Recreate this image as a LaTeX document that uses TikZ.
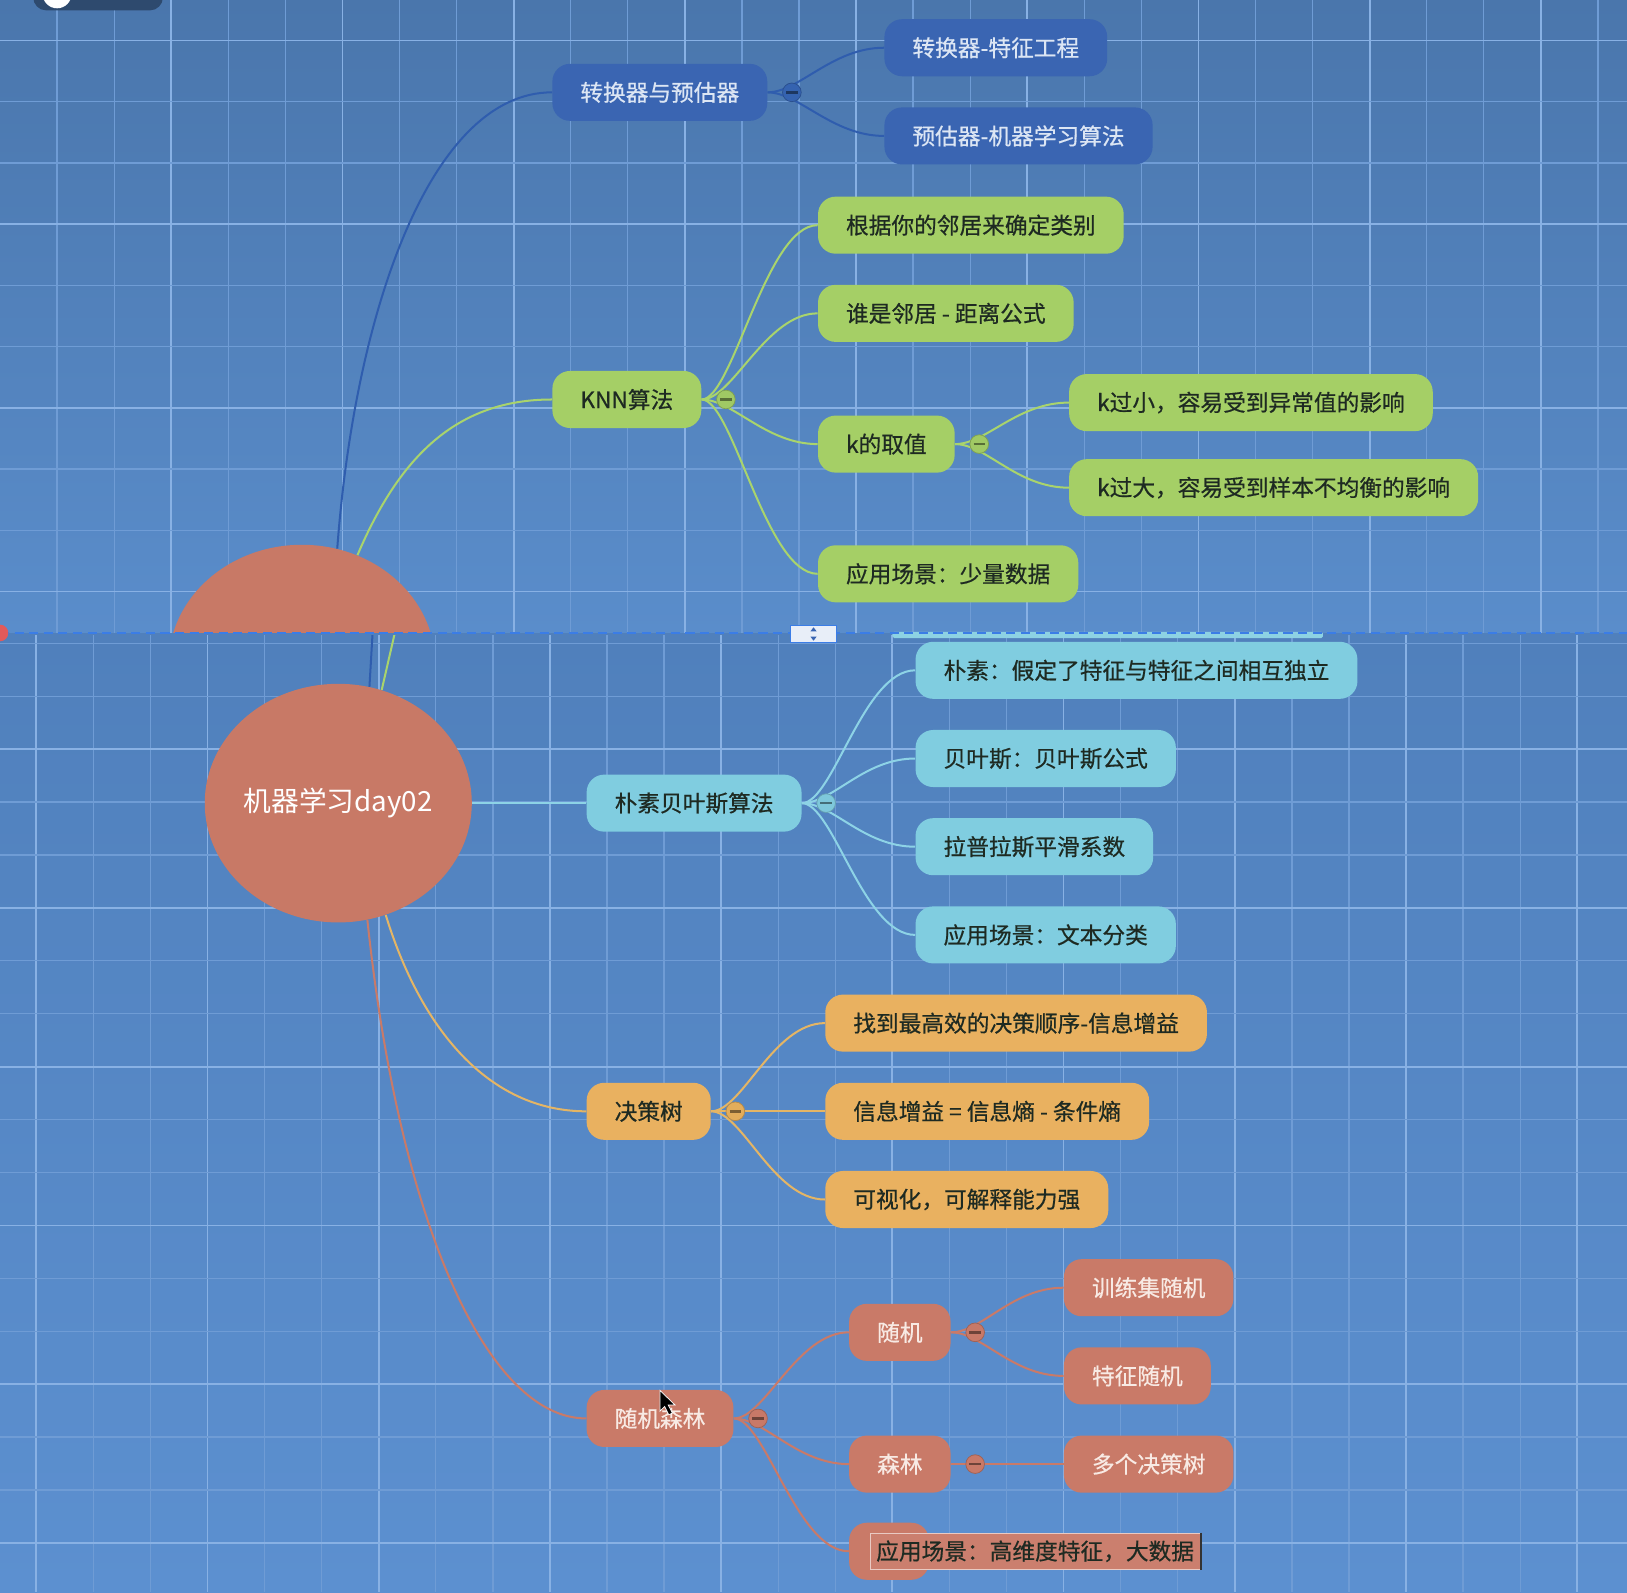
\documentclass[tikz,border=0pt]{standalone}
\usepackage{fontspec}
\setmainfont{Noto Sans CJK SC}
\newfontfamily\topicfont{Noto Sans CJK SC}[FakeBold=0.6]
\usetikzlibrary{shapes.geometric,positioning}

\definecolor{bgtopA}{HTML}{4A76AC}
\definecolor{bgtopB}{HTML}{5A8DCB}
\definecolor{bgbotA}{HTML}{5080BC}
\definecolor{bgbotB}{HTML}{5C90D0}
\definecolor{gridline}{HTML}{6F9CD5}
\definecolor{gridbright}{HTML}{88B1E4}
\definecolor{bluefill}{HTML}{3A65B2}
\definecolor{bluetext}{HTML}{DCE6F4}
\definecolor{blueline}{HTML}{2F5DAE}
\definecolor{bluefold}{HTML}{3563B0}
\definecolor{greenfill}{HTML}{A5CF66}
\definecolor{greenline}{HTML}{A9D46C}
\definecolor{greenfold}{HTML}{A0C964}
\definecolor{cyanfill}{HTML}{80CDE0}
\definecolor{cyanline}{HTML}{8DD3E6}
\definecolor{cyanfold}{HTML}{7EC8DB}
\definecolor{orangefill}{HTML}{E9B160}
\definecolor{orangeline}{HTML}{E4B565}
\definecolor{orangefold}{HTML}{E3AD5B}
\definecolor{redfill}{HTML}{C97A68}
\definecolor{redtext}{HTML}{F8EAE4}
\definecolor{redline}{HTML}{C97A68}
\definecolor{redfold}{HTML}{C87968}
\definecolor{rootfill}{HTML}{C87966}
\definecolor{darktext}{HTML}{1E2A22}
\definecolor{pillcolor}{HTML}{2E4A6E}
\definecolor{dashblue}{HTML}{3B7DE6}
\definecolor{iconfill}{HTML}{E8EEF8}
\definecolor{reddot}{HTML}{E25A5A}

\tikzset{
  topic/.style={rectangle, rounded corners=0.34cm, minimum height=1.1cm,
    inner xsep=0.54cm, inner ysep=0pt, anchor=west,
    font=\topicfont\fontsize{12.45}{14}\selectfont},
  bluetopic/.style={topic, fill=bluefill, text=bluetext},
  greentopic/.style={topic, fill=greenfill, text=darktext},
  cyantopic/.style={topic, fill=cyanfill, text=darktext},
  orangetopic/.style={topic, fill=orangefill, text=darktext},
  redtopic/.style={topic, fill=redfill, text=redtext},
  editbox/.style={rectangle, anchor=west, fill=redfill!96!white, draw=redfill!40!white,
    line width=0.5pt, minimum height=0.7cm, inner xsep=0.12cm, inner ysep=0pt,
    text=darktext, font=\topicfont\fontsize{12.45}{14}\selectfont},
  rootnode/.style={ellipse, fill=rootfill, minimum width=5.14cm, minimum height=4.6cm,
    inner sep=0pt, text=white, font=\fontsize{15.2}{18}\selectfont},
  branch/.style={line width=1.1pt},
  fold/.style={circle, minimum size=0.36cm, inner sep=0pt, fill=#1,
    draw=#1!80!black, line width=0.4pt,
    path picture={\draw[line width=1.4pt, #1!55!black]
      ([xshift=2pt]path picture bounding box.west) --
      ([xshift=-2pt]path picture bounding box.east);}},
}

\begin{document}
\begin{tikzpicture}[x=0.02cm,y=-0.02cm]
    \useasboundingbox (0,0) rectangle (1568,1534.3);
    % background, two screenshots
    \shade[top color=bgtopA, bottom color=bgtopB] (0,0) rectangle (1568,611);
    \shade[top color=bgbotA, bottom color=bgbotB] (0,611) rectangle (1568,1534.3);
    % grid, upper part
    \foreach \x in {55,110,...,1568}
    \draw[gridline, line width=0.7pt] (\x,0) -- (\x,610);
    \foreach \x in {165,330,...,1568}
    \draw[gridbright, line width=1pt] (\x,0) -- (\x,610);
    \foreach \y in {39,98,...,600}
    \draw[gridline, line width=0.7pt] (0,\y) -- (1568,\y);
    \foreach \y in {39,216,...,600}
    \draw[gridbright, line width=1pt] (0,\y) -- (1568,\y);
    % grid, lower part
    \foreach \x in {35,90,...,1568}
    \draw[gridline, line width=0.7pt] (\x,612) -- (\x,1534.3);
    \foreach \x in {35,200,...,1568}
    \draw[gridbright, line width=1pt] (\x,612) -- (\x,1534.3);
    \foreach \y in {620,671,...,1534}
    \draw[gridline, line width=0.7pt] (0,\y) -- (1568,\y);
    \foreach \y in {722,875,...,1534}
    \draw[gridbright, line width=1pt] (0,\y) -- (1568,\y);

    % window button, top left
    \fill[pillcolor, rounded corners=0.25cm] (32,-25) rectangle (157,10);
    \fill[white] (55,-6) circle (14);

    % upper screenshot
    \node[bluetopic] (tf) at (532,89) {转换器与预估器};
    \node[bluetopic] (tfa) at (852,46) {转换器-特征工程};
    \node[bluetopic] (tfb) at (852,131) {预估器-机器学习算法};
    \node[greentopic] (knn) at (532,385) {KNN算法};
    \node[greentopic] (knna) at (788,217) {根据你的邻居来确定类别};
    \node[greentopic] (knnb) at (788,302) {谁是邻居 - 距离公式};
    \node[greentopic] (kval) at (788,428) {k的取值};
    \node[greentopic] (ksmall) at (1030,388) {k过小，容易受到异常值的影响};
    \node[greentopic] (kbig) at (1030,470) {k过大，容易受到样本不均衡的影响};
    \node[greentopic] (knnc) at (788,553) {应用场景：少量数据};
    \begin{scope}
      \clip (0,0) rectangle (1568,610);
      \node[rootnode] (roottop) at (291,640) {};
      \draw[branch, blueline] (roottop.73) .. controls (342,300) and (415,89) .. (tf.west);
      \draw[branch, greenline] (roottop.63) .. controls (385,440) and (440,385) .. (knn.west);
    \end{scope}
    \draw[branch, blueline] (tf.east) .. controls +(30,0) and +(-50,0) .. (tfa.west);
    \draw[branch, blueline] (tf.east) .. controls +(30,0) and +(-50,0) .. (tfb.west);
    \draw[branch, greenline] (knn.east) .. controls +(30,0) and +(-50,0) .. (knna.west);
    \draw[branch, greenline] (knn.east) .. controls +(30,0) and +(-50,0) .. (knnb.west);
    \draw[branch, greenline] (knn.east) .. controls +(30,0) and +(-50,0) .. (kval.west);
    \draw[branch, greenline] (knn.east) .. controls +(30,0) and +(-50,0) .. (knnc.west);
    \draw[branch, greenline] (kval.east) .. controls +(30,0) and +(-50,0) .. (ksmall.west);
    \draw[branch, greenline] (kval.east) .. controls +(30,0) and +(-50,0) .. (kbig.west);
    \node[fold=bluefold, right=0.28cm of tf.east] (tfdot) {};
    \node[fold=greenfold, right=0.28cm of knn.east] (knndot) {};
    \node[fold=greenfold, right=0.28cm of kval.east] (kvaldot) {};

    % lower screenshot
    \node[rootnode] (root) at (326,774) {机器学习day02};
    \node[cyantopic] (nb) at (565,774) {朴素贝叶斯算法};
    \node[cyantopic] (nba) at (882,646) {朴素：假定了特征与特征之间相互独立};
    \node[cyantopic] (nbb) at (882,731) {贝叶斯：贝叶斯公式};
    \node[cyantopic] (nbc) at (882,816) {拉普拉斯平滑系数};
    \node[cyantopic] (nbd) at (882,901) {应用场景：文本分类};
    \node[orangetopic] (dt) at (565,1071) {决策树};
    \node[orangetopic] (dta) at (795,986) {找到最高效的决策顺序-信息增益};
    \node[orangetopic] (dtb) at (795,1071) {信息增益 = 信息熵 - 条件熵};
    \node[orangetopic] (dtc) at (795,1156) {可视化，可解释能力强};
    \node[redtopic] (rf) at (565,1367) {随机森林};
    \node[redtopic] (rnd) at (818,1284) {随机};
    \node[redtopic] (rnda) at (1025,1241) {训练集随机};
    \node[redtopic] (rndb) at (1025,1326) {特征随机};
    \node[redtopic] (forest) at (818,1411) {森林};
    \node[redtopic] (foresta) at (1025,1411) {多个决策树};
    \node[redtopic, minimum width=1.54cm, inner xsep=0pt] (rfc) at (818,1495) {};
    \begin{scope}
      \clip (0,612) rectangle (1568,1534.3);
      \coordinate (tfup) at (362,560);
      \coordinate (knnup) at (392,560);
      \draw[branch, blueline] (root.75) -- (tfup);
      \draw[branch, greenline] (root.69) -- (knnup);
    \end{scope}
    \draw[branch, cyanline] (root.east) -- (nb.west);
    \draw[branch, orangeline] (root.-67) .. controls (405,990) and (470,1071) .. (dt.west);
    \draw[branch, redline] (root.-76) .. controls (385,1180) and (470,1367) .. (rf.west);
    \draw[branch, cyanline] (nb.east) .. controls +(30,0) and +(-50,0) .. (nba.west);
    \draw[branch, cyanline] (nb.east) .. controls +(30,0) and +(-50,0) .. (nbb.west);
    \draw[branch, cyanline] (nb.east) .. controls +(30,0) and +(-50,0) .. (nbc.west);
    \draw[branch, cyanline] (nb.east) .. controls +(30,0) and +(-50,0) .. (nbd.west);
    \draw[branch, orangeline] (dt.east) .. controls +(30,0) and +(-50,0) .. (dta.west);
    \draw[branch, orangeline] (dt.east) -- (dtb.west);
    \draw[branch, orangeline] (dt.east) .. controls +(30,0) and +(-50,0) .. (dtc.west);
    \draw[branch, redline] (rf.east) .. controls +(30,0) and +(-50,0) .. (rnd.west);
    \draw[branch, redline] (rf.east) .. controls +(30,0) and +(-50,0) .. (forest.west);
    \draw[branch, redline] (rf.east) .. controls +(30,0) and +(-50,0) .. (rfc.west);
    \draw[branch, redline] (rnd.east) .. controls +(30,0) and +(-50,0) .. (rnda.west);
    \draw[branch, redline] (rnd.east) .. controls +(30,0) and +(-50,0) .. (rndb.west);
    \draw[branch, redline] (forest.east) -- (foresta.west);
    \node[fold=cyanfold, right=0.28cm of nb.east] (nbdot) {};
    \node[fold=orangefold, right=0.28cm of dt.east] (dtdot) {};
    \node[fold=redfold, right=0.28cm of rf.east] (rfdot) {};
    \node[fold=redfold, right=0.28cm of rnd.east] (rnddot) {};
    \node[fold=redfold, right=0.28cm of forest.east] (forestdot) {};
    % text being edited
    \node[editbox] (rfctext) at (838,1495) {应用场景：高维度特征，大数据};
    \draw[line width=1.2pt, black!80] (rfctext.north east) -- (rfctext.south east);
    % mouse pointer
    \draw[fill=black, draw=white, line width=0.4pt] (636,1340) -- ++(0,20) -- ++(4.5,-4.5)
      -- ++(4,8) -- ++(3.5,-1.7) -- ++(-4,-7.8) -- ++(6.5,0) -- cycle;

    % seam between the two screenshots
    \fill[cyanfill!90!white, rounded corners=1pt] (860,609) rectangle (1275,615);
    \draw[dashblue, dash pattern=on 5pt off 3pt, line width=0.8pt] (0,610) -- (1568,610);
    \fill[reddot] (0,610) circle (8);
    \node[draw=dashblue, fill=iconfill, line width=0.8pt, minimum width=0.88cm,
      minimum height=0.32cm, inner sep=0pt] (resize) at (784,611) {};
    \fill[bluefill] (781,608.5) -- (787,608.5) -- (784,604.5) -- cycle;
    \fill[bluefill] (781,613.5) -- (787,613.5) -- (784,617.5) -- cycle;
\end{tikzpicture}
\end{document}
